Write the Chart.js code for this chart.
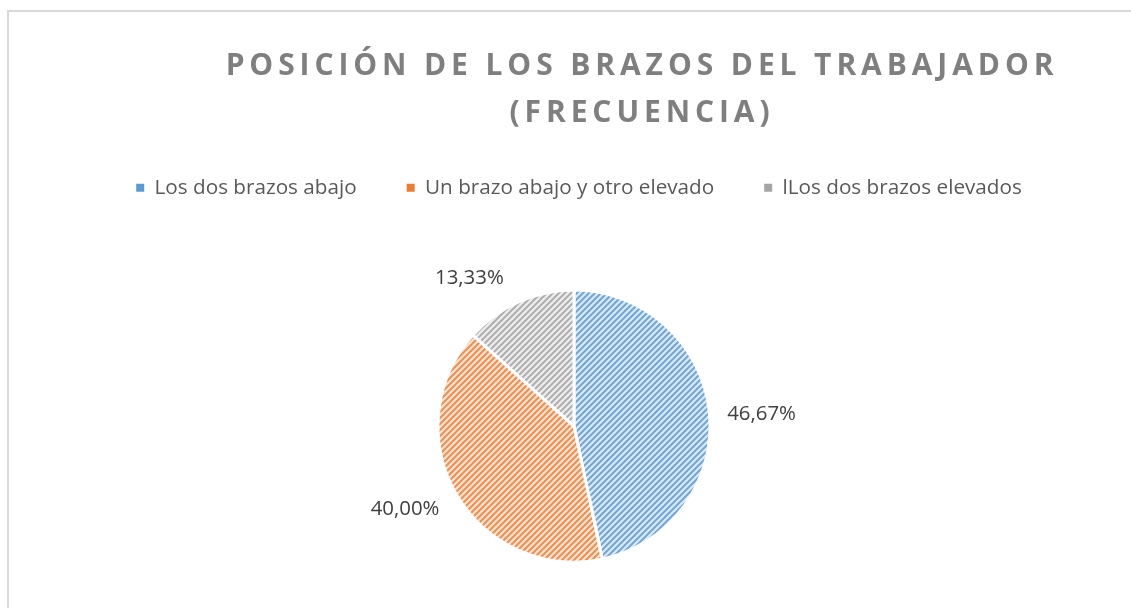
<!DOCTYPE html>
<html><head><meta charset="utf-8">
<script src="https://cdn.jsdelivr.net/npm/chart.js@4"></script>
<style>
html,body{margin:0;padding:0;background:#fff;overflow:hidden;}
#wrap{position:relative;width:1131px;height:608px;overflow:hidden;}
#frame{position:absolute;left:7px;top:10px;width:2000px;height:2000px;border-left:2px solid #d9d9d9;border-top:2px solid #d9d9d9;pointer-events:none;}
canvas{position:absolute;left:0;top:0;}
</style></head><body>
<div id="wrap"><div id="frame"></div><canvas id="c" width="1131" height="608"></canvas></div>
<script>
const titleLines = ['POSICIÓN DE LOS BRAZOS DEL TRABAJADOR', '(FRECUENCIA)'];
const categories = ['Los dos brazos abajo', 'Un brazo abajo y otro elevado', 'lLos dos brazos elevados'];
const percentages = [46.67, 40.00, 13.33];
const baseColors = ['#5B9BD5', '#ED7D31', '#A5A5A5'];
const stripeColors = ['#6FA7DA', '#F08E4E', '#AFAFAF'];
const tintColors = ['#DCE9F6', '#FCE4D5', '#EEEEEE'];
const labelAngleShift = [2.4, 3.8, -11.3];

const percentLabels = percentages.map(v => v.toFixed(2).replace('.', ',') + '%');

function stripe(fg, bg) {
  const s = 6;
  const c = document.createElement('canvas');
  c.width = s; c.height = s;
  const x = c.getContext('2d');
  x.fillStyle = bg; x.fillRect(0, 0, s, s);
  x.strokeStyle = fg; x.lineWidth = 2;
  x.beginPath();
  x.moveTo(-1, s + 1); x.lineTo(s + 1, -1);
  x.moveTo(-1, 1); x.lineTo(1, -1);
  x.moveTo(s - 1, s + 1); x.lineTo(s + 1, s - 1);
  x.stroke();
  return x.createPattern(c, 'repeat');
}
const patterns = stripeColors.map((c, i) => stripe(c, tintColors[i]));

const layoutTweaks = {
  id: 'layoutTweaks',
  beforeLayout(chart) {
    const l = chart.legend;
    if (l && !l._wrapped) {
      const f = l.fit;
      l.fit = function () { f.apply(this, arguments); this.height += 36; };
      l._wrapped = true;
    }
  },
  afterLayout(chart) {
    const t = chart.titleBlock;
    if (t) {
      if (!t._wrapped) {
        const d = t.draw;
        t.draw = function () {
          const c = this.ctx;
          c.save();
          c.letterSpacing = '4.9px';
          d.apply(this, arguments);
          c.restore();
        };
        t._wrapped = true;
      }
      t.left += 68; t.right += 68;
    }
    const l = chart.legend;
    if (l) { l.left += 5; l.right += 5; }
  }
};

const pctLabels = {
  id: 'pctLabels',
  afterDatasetsDraw(chart) {
    const ctx = chart.ctx;
    const meta = chart.getDatasetMeta(0);
    ctx.save();
    ctx.font = '20.4px "Open Sans"';
    ctx.fillStyle = '#404040';
    ctx.textAlign = 'center';
    ctx.textBaseline = 'middle';
    meta.data.forEach((arc, i) => {
      const p = arc.getProps(['x', 'y', 'startAngle', 'endAngle', 'outerRadius'], true);
      const a = (p.startAngle + p.endAngle) / 2 + labelAngleShift[i] * Math.PI / 180;
      const txt = percentLabels[i];
      const w = ctx.measureText(txt).width, h = 20;
      const ext = Math.abs(Math.cos(a)) * w / 2 + Math.abs(Math.sin(a)) * h / 2;
      const d = p.outerRadius + 17 + ext;
      ctx.fillText(txt, p.x + Math.cos(a) * d, p.y + Math.sin(a) * d);
    });
    ctx.restore();
  }
};

new Chart(document.getElementById('c'), {
  type: 'pie',
  data: {
    labels: categories,
    datasets: [{
      data: percentages,
      backgroundColor: patterns,
      borderColor: '#ffffff',
      borderWidth: 3,
      radius: 136
    }]
  },
  options: {
    responsive: false,
    animation: false,
    layout: { padding: { left: 17, right: 0, top: 0, bottom: 0 } },
    plugins: {
      title: {
        display: true,
        text: titleLines,
        color: '#7F7F7F',
        font: { family: '"Open Sans"', size: 30, weight: 'bold', lineHeight: 1.5667 },
        padding: { top: 42.5, bottom: -9 }
      },
      legend: {
        position: 'top',
        labels: {
          boxWidth: 8,
          boxHeight: 8,
          padding: 50,
          color: '#595959',
          font: { family: '"Open Sans"', size: 20.7 },
          generateLabels(chart) {
            const items = Chart.overrides.pie.plugins.legend.labels.generateLabels(chart);
            items.forEach((it, i) => { it.lineWidth = 0; it.strokeStyle = 'rgba(0,0,0,0)'; it.fillStyle = baseColors[i]; });
            return items;
          }
        }
      },
      tooltip: { enabled: false }
    }
  },
  plugins: [layoutTweaks, pctLabels]
});
</script>
</body></html>
